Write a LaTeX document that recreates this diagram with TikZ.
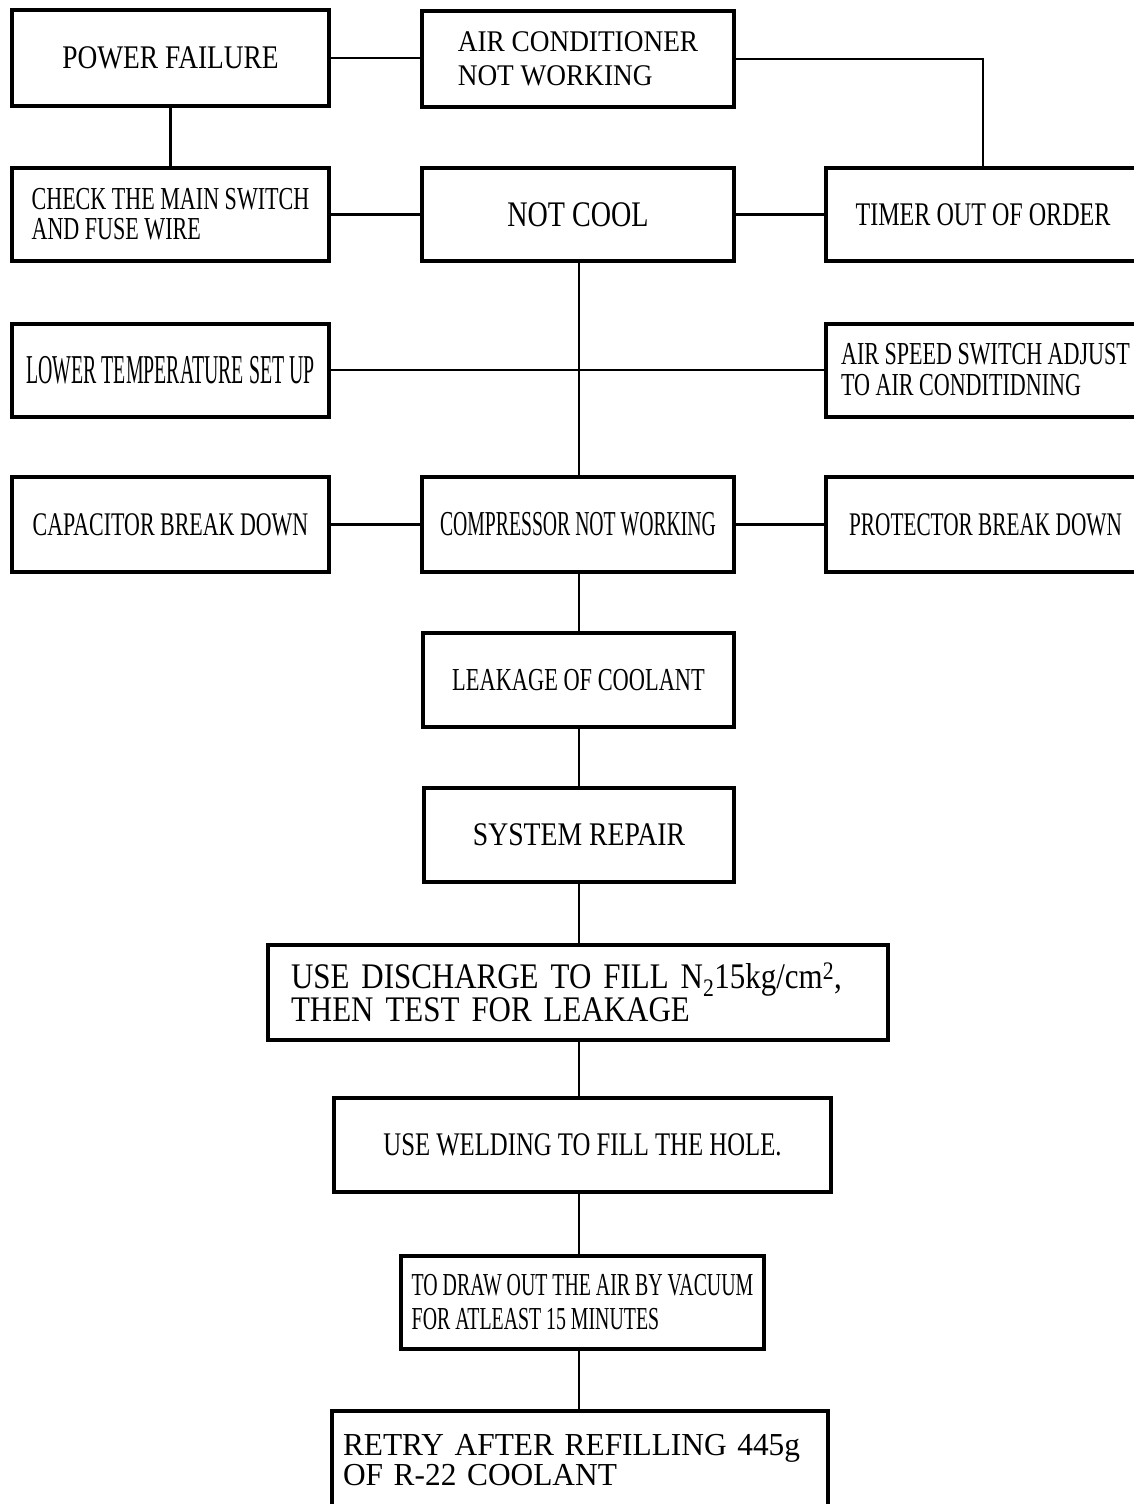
\documentclass[tikz,border=0pt]{standalone}
\usepackage{fontspec}
\setmainfont{Liberation Serif}
\newcommand\ff[3]{\fontsize{#1}{#2}\selectfont\addfontfeatures{FakeStretch=#3}}
\tikzset{
  box/.style={draw, line width=4pt, inner sep=0pt, align=left},
  wire/.style={line width=2.6pt},
}
\begin{document}
\begin{tikzpicture}[x=1pt,y=-1pt]
\fill[white] (0,0) rectangle (1134,1504);
\useasboundingbox (0,0) rectangle (1134,1504);

% row 1
\node[box, minimum width=317pt, minimum height=96pt, font={\ff{33}{33}{0.83}}] (pf) at (170.5,58) {POWER FAILURE};
\node[box, minimum width=312pt, minimum height=96pt, font={\ff{30}{34}{0.91}}] (ac) at (578,59) {AIR CONDITIONER\\NOT WORKING};

% row 2
\node[box, minimum width=317pt, minimum height=93pt, font={\ff{32}{30}{0.69}}] (chk) at (170.5,214.5) {CHECK THE MAIN SWITCH\\AND FUSE WIRE};
\node[box, minimum width=312pt, minimum height=93pt, font={\ff{36}{36}{0.78}}] (nc) at (578,214.5) {NOT COOL};
\node[box, minimum width=314pt, minimum height=93pt, font={\ff{33}{33}{0.73}}] (tm) at (983,214.5) {TIMER OUT OF ORDER};

% row 3
\node[box, minimum width=317pt, minimum height=93pt, font={\ff{41}{41}{0.484}}] (lt) at (170.5,370) {LOWER TEMPERATURE SET UP};
\node[box, minimum width=319pt, minimum height=93pt, font={\ff{32}{31}{0.69}}] (as) at (985.5,370) {AIR SPEED SWITCH ADJUST\\TO AIR CONDITIDNING};

% row 4
\node[box, minimum width=317pt, minimum height=95pt, font={\ff{33}{33}{0.665}}] (cap) at (170.5,524.5) {CAPACITOR BREAK DOWN};
\node[box, minimum width=312pt, minimum height=95pt, font={\ff{35}{35}{0.563}}] (cmp) at (578,524.5) {COMPRESSOR NOT WORKING};
\node[box, minimum width=319pt, minimum height=95pt, font={\ff{33}{33}{0.645}}] (prt) at (985.5,524.5) {PROTECTOR BREAK DOWN};

% spine
\node[box, minimum width=311pt, minimum height=94pt, font={\ff{32}{32}{0.70}}] (lk) at (578.5,680) {LEAKAGE OF COOLANT};
\node[box, minimum width=310pt, minimum height=94pt, font={\ff{33}{33}{0.84}}] (sr) at (579,835) {SYSTEM REPAIR};
\node[box, text width=574pt, inner xsep=23pt, minimum height=95pt, font={\ff{36}{31}{0.86}}] (ud) at (578,992) {USE DISCHARGE TO FILL N\textsubscript{2}15kg/cm\textsuperscript{2},\\THEN TEST FOR LEAKAGE};
\node[box, minimum width=497pt, minimum height=94pt, font={\ff{33}{33}{0.75}}] (uw) at (582.5,1145) {USE WELDING TO FILL THE HOLE.};
\node[box, minimum width=363pt, minimum height=93pt, font={\ff{32}{34}{0.62}}] (td) at (582.5,1302.5) {TO DRAW OUT THE AIR BY VACUUM\\FOR ATLEAST 15 MINUTES};
\node[box, text width=474pt, inner xsep=11pt, minimum height=99pt, font={\ff{32}{30}{0.98}}] (rt) at (580,1460.5) {RETRY AFTER REFILLING 445g\\OF R-22 COOLANT};

\coordinate (sp) at (579,0);

% connectors
\draw[wire] (pf.east) -- (pf.east -| ac.west);
\draw[wire] (ac.east) -| (tm.north);
\draw[wire] (pf.south) -- (chk.north);
\draw[wire] (chk.east) -- (nc.west);
\draw[wire] (nc.east) -- (tm.west);
\draw[wire] (sp |- nc.south) -- (sp |- cmp.north);
\draw[wire] (lt.east) -- (as.west);
\draw[wire] (cap.east) -- (cmp.west);
\draw[wire] (cmp.east) -- (prt.west);
\draw[wire] (sp |- cmp.south) -- (sp |- lk.north);
\draw[wire] (sp |- lk.south) -- (sp |- sr.north);
\draw[wire] (sp |- sr.south) -- (sp |- ud.north);
\draw[wire] (sp |- ud.south) -- (sp |- uw.north);
\draw[wire] (sp |- uw.south) -- (sp |- td.north);
\draw[wire] (sp |- td.south) -- (sp |- rt.north);
\end{tikzpicture}
\end{document}
